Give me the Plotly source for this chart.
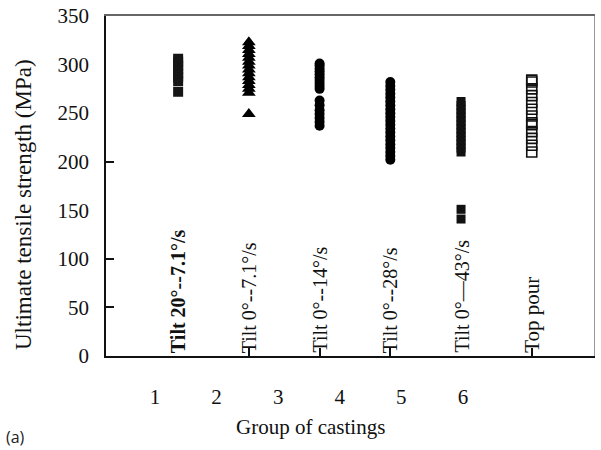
import plotly.graph_objects as go

# ---- data ----
group_positions = [1, 2, 3, 4, 5, 6]
group_tick_labels = ["1", "2", "3", "4", "5", "6"]
group_names = ["Tilt 20°--7.1°/s", "Tilt 0°--7.1°/s", "Tilt 0°--14°/s",
               "Tilt 0°--28°/s", "Tilt 0°—43°/s", "Top pour"]

g1_uts = [272, 283, 287, 291, 295, 299, 303, 306]
g2_uts = [249, 271, 275, 279, 283, 287, 291, 295, 299, 303, 307, 311, 315, 319, 323]
g3_uts = [237, 241, 245, 249, 253, 258, 263, 275, 278, 281, 284, 287, 290, 293, 296, 299, 301]
g4_uts = [202, 206, 210, 214, 218, 222, 226, 230, 234, 238, 242, 246, 250,
          254, 258, 262, 266, 270, 274, 278, 282]
g5_uts = [141, 151, 210, 214, 218, 222, 226, 230, 234, 238, 242, 246, 250, 254, 258, 262]
g6_uts = [210, 217, 224, 231, 238, 240, 247, 254, 261, 268, 275, 282, 284]

y_tick_vals = [0, 50, 100, 150, 200, 250, 300, 350]
y_mark_vals = [50, 100, 200]
x_mark_vals = [2, 3, 4, 6]

SERIF = "Liberation Serif"

fig = go.Figure()

series = [
    (1, g1_uts, "square", 10, dict(color="#151515", line=dict(width=0))),
    (2, g2_uts, "triangle-up", 12, dict(color="#000000", line=dict(width=0))),
    (3, g3_uts, "circle", 10, dict(color="#000000", line=dict(width=0))),
    (4, g4_uts, "circle", 10, dict(color="#000000", line=dict(width=0))),
    (5, g5_uts, "square", 9, dict(color="#111111", line=dict(width=0))),
    (6, g6_uts, "square-open", 10, dict(color="#111111", line=dict(width=1.6))),
]
for pos, vals, sym, size, mk in series:
    fig.add_trace(go.Scatter(
        x=[pos] * len(vals), y=vals, mode="markers",
        marker=dict(symbol=sym, size=size, **mk),
        showlegend=False, hoverinfo="skip"))

# overlay axes: group numbers (offset from the data columns as in the figure), y labels, frame
fig.add_trace(go.Scatter(x=[None], y=[None], xaxis="x2", yaxis="y", showlegend=False))
fig.add_trace(go.Scatter(x=[None], y=[None], xaxis="x", yaxis="y2", showlegend=False))
fig.add_trace(go.Scatter(x=[None], y=[None], xaxis="x3", yaxis="y", showlegend=False))
fig.add_trace(go.Scatter(x=[None], y=[None], xaxis="x", yaxis="y3", showlegend=False))

# rotated group names
for pos, name in zip(group_positions, group_names):
    txt = "<b>" + name + "</b>" if pos == 1 else name
    fig.add_annotation(x=pos, y=0, xref="x", yref="y", text=txt, textangle=-90,
                       showarrow=False, xanchor="center", yanchor="bottom", yshift=1,
                       font=dict(family=SERIF, size=21 if pos == 6 else 20, color="#111111"))

fig.add_annotation(text="Group of castings", xref="paper", yref="paper",
                   x=(310 - 106) / 488, y=-(427 - 356) / 340, xanchor="center", yanchor="middle",
                   showarrow=False, font=dict(family=SERIF, size=21, color="#111111"))
fig.add_annotation(text="Ultimate tensile strength (MPa)", xref="paper", yref="paper",
                   x=(23 - 106) / 488, y=(356 - 205) / 340, xanchor="center", yanchor="middle",
                   textangle=-90, showarrow=False,
                   font=dict(family=SERIF, size=23, color="#111111"))
fig.add_annotation(text="(a)", xref="paper", yref="paper",
                   x=(4 - 106) / 488, y=-(437 - 356) / 340, xanchor="left", yanchor="middle",
                   showarrow=False, font=dict(family="Open Sans", size=16, color="#222222"))

fig.update_layout(
    width=601, height=450,
    margin=dict(l=106, r=7, t=16, b=94),
    paper_bgcolor="white", plot_bgcolor="white",
    xaxis=dict(range=[-0.02, 6.88], tickvals=x_mark_vals, ticks="inside", ticklen=8,
               tickwidth=1.5, tickcolor="#111111", showticklabels=False,
               showgrid=False, zeroline=False, showline=True, linecolor="#111111",
               linewidth=2, mirror=False, automargin=False),
    xaxis2=dict(overlaying="x", side="bottom", range=[0.205, 8.127],
                tickvals=group_positions, ticktext=group_tick_labels, ticks="",
                ticklabelstandoff=26, showgrid=False, zeroline=False, showline=False,
                automargin=False,
                tickfont=dict(family=SERIF, size=21, color="#111111")),
    yaxis=dict(range=[0, 350], tickvals=y_mark_vals, ticks="inside", ticklen=8,
               tickwidth=1.5, tickcolor="#111111", showticklabels=False,
               showgrid=False, zeroline=False, showline=True, linecolor="#111111",
               linewidth=2, mirror=False, automargin=False),
    yaxis2=dict(overlaying="y", side="left", range=[0, 350], tickvals=y_tick_vals,
                ticks="", ticklabelstandoff=16, showgrid=False, zeroline=False,
                showline=False, automargin=False,
                tickfont=dict(family=SERIF, size=21, color="#111111")),
    xaxis3=dict(overlaying="x", side="top", range=[0, 1], showticklabels=False, ticks="",
                showgrid=False, zeroline=False, showline=True, linecolor="#666666",
                linewidth=2, automargin=False),
    yaxis3=dict(overlaying="y", side="right", range=[0, 1], showticklabels=False, ticks="",
                showgrid=False, zeroline=False, showline=True, linecolor="#999999",
                linewidth=1, automargin=False),
)

fig.write_html("out.html", config={"displayModeBar": False},
               post_script="document.body.style.margin='0';")
